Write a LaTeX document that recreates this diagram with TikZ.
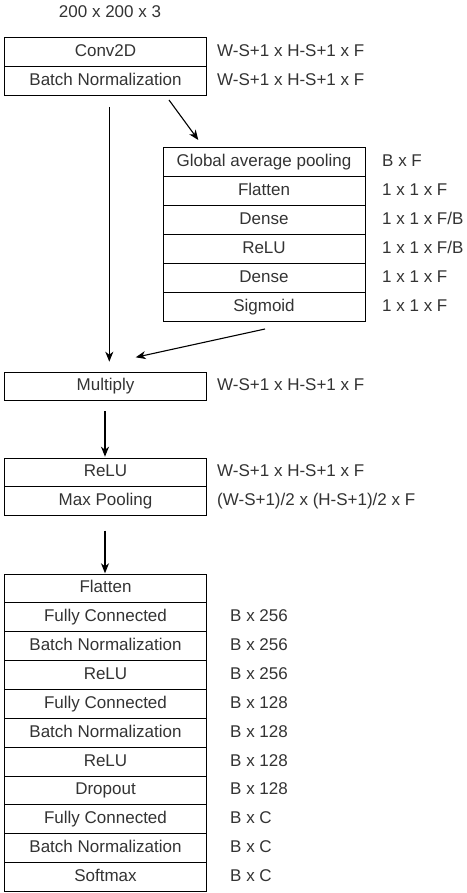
\documentclass[tikz,border=0pt]{standalone}
\usepackage{fontspec}
\setmainfont{Liberation Sans}
\usetikzlibrary{arrows.meta,positioning}
\begin{document}
\begin{tikzpicture}[x=1pt,y=-1pt,
  font=\fontsize{17}{20}\selectfont,
  layer/.style={draw=black, line width=1pt, minimum width=202pt, minimum height=28.87pt,
    inner sep=0pt, outer sep=0pt, text=black!80, anchor=north west,
    text height=12.3pt, text depth=3.6pt},
  dim/.style={anchor=west, inner sep=0pt, text=black!80,
    text height=12.3pt, text depth=3.6pt},
  flow/.style={line width=1.1pt, -{Stealth[length=10pt,width=8pt,inset=3pt]}}]
\useasboundingbox (0,0) rectangle (466,893);

% input size
\node[text=black!80] (input) at (110,12) {200 x 200 x 3};

% convolution block
\node[layer] (conv) at (4.5,38) {Conv2D};
\node[layer, below=0pt of conv] (bn1) {Batch Normalization};
\node[dim, right=10.5pt of conv] (dconv) {W-S+1 x H-S+1 x F};
\node[dim, right=10.5pt of bn1] (dbn1) {W-S+1 x H-S+1 x F};

% squeeze-and-excitation branch
\node[layer] (gap) at (163,148) {Global average pooling};
\node[layer, below=0pt of gap] (seflat) {Flatten};
\node[layer, below=0pt of seflat] (dense1) {Dense};
\node[layer, below=0pt of dense1] (serelu) {ReLU};
\node[layer, below=0pt of serelu] (dense2) {Dense};
\node[layer, below=0pt of dense2] (sigm) {Sigmoid};
\node[dim, right=17pt of gap] (dgap) {B x F};
\node[dim, right=17pt of seflat] (dseflat) {1 x 1 x F};
\node[dim, right=17pt of dense1] (ddense1) {1 x 1 x F/B};
\node[dim, right=17pt of serelu] (dserelu) {1 x 1 x F/B};
\node[dim, right=17pt of dense2] (ddense2) {1 x 1 x F};
\node[dim, right=17pt of sigm] (dsigm) {1 x 1 x F};

% scaling
\node[layer] (mult) at (4.5,372) {Multiply};
\node[dim, right=10.5pt of mult] (dmult) {W-S+1 x H-S+1 x F};

% activation and pooling
\node[layer] (relu1) at (4.5,458) {ReLU};
\node[layer, below=0pt of relu1] (pool) {Max Pooling};
\node[dim, right=10.5pt of relu1] (drelu1) {W-S+1 x H-S+1 x F};
\node[dim, right=10.5pt of pool] (dpool) {(W-S+1)/2 x (H-S+1)/2 x F};

% classifier head
\node[layer] (flat) at (4.5,574) {Flatten};
\node[layer, below=0pt of flat] (fc1) {Fully Connected};
\node[layer, below=0pt of fc1] (bn2) {Batch Normalization};
\node[layer, below=0pt of bn2] (relu2) {ReLU};
\node[layer, below=0pt of relu2] (fc2) {Fully Connected};
\node[layer, below=0pt of fc2] (bn3) {Batch Normalization};
\node[layer, below=0pt of bn3] (relu3) {ReLU};
\node[layer, below=0pt of relu3] (drop) {Dropout};
\node[layer, below=0pt of drop] (fc3) {Fully Connected};
\node[layer, below=0pt of fc3] (bn4) {Batch Normalization};
\node[layer, below=0pt of bn4] (soft) {Softmax};
\node[dim, right=23.5pt of fc1] (dfc1) {B x 256};
\node[dim, right=23.5pt of bn2] (dbn2) {B x 256};
\node[dim, right=23.5pt of relu2] (drelu2) {B x 256};
\node[dim, right=23.5pt of fc2] (dfc2) {B x 128};
\node[dim, right=23.5pt of bn3] (dbn3) {B x 128};
\node[dim, right=23.5pt of relu3] (drelu3) {B x 128};
\node[dim, right=23.5pt of drop] (ddrop) {B x 128};
\node[dim, right=23.5pt of fc3] (dfc3) {B x C};
\node[dim, right=23.5pt of bn4] (dbn4) {B x C};
\node[dim, right=23.5pt of soft] (dsoft) {B x C};

% connector end points
\coordinate (skipS) at (109.3,107);
\coordinate (skipE) at (109.3,361.7);
\coordinate (seinS) at (169,100);
\coordinate (seinE) at (198.3,140);
\coordinate (seoutS) at (265,329);
\coordinate (seoutE) at (135.7,357.3);
\coordinate (multS) at (105,411);
\coordinate (multE) at (105,456.7);
\coordinate (poolS) at (105,530.7);
\coordinate (poolE) at (105,573.3);

\draw[flow] (skipS) -- (skipE);
\draw[flow] (seinS) -- (seinE);
\draw[flow] (seoutS) -- (seoutE);
\draw[flow] (multS) -- (multE);
\draw[flow] (poolS) -- (poolE);
\end{tikzpicture}
\end{document}
